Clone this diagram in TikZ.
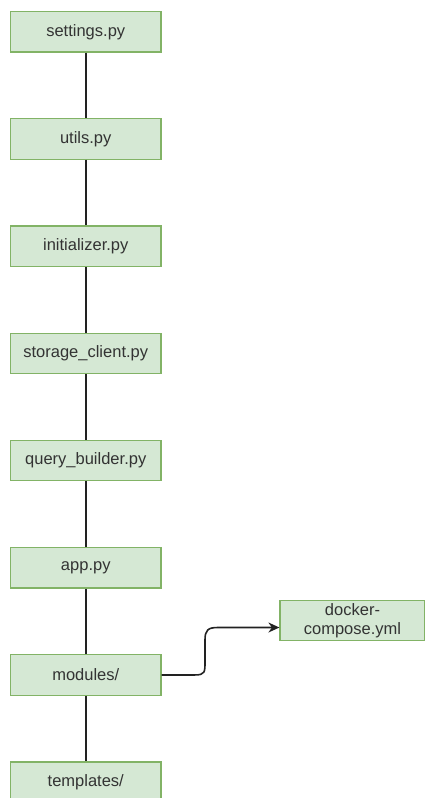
\documentclass[tikz,border=0pt]{standalone}
\usepackage{fontspec}
\setmainfont{Liberation Sans}
\usetikzlibrary{arrows.meta}
\definecolor{boxfill}{HTML}{D5E8D4}
\definecolor{boxline}{HTML}{82B366}
\definecolor{linec}{HTML}{222222}
\begin{document}
\begin{tikzpicture}[x=1pt,y=-1pt,
  filebox/.style={draw=boxline,fill=boxfill,line width=1.2pt,minimum width=150.5pt,minimum height=40.5pt,inner sep=0pt,font=\fontsize{16.5}{19}\selectfont,text=black!80,align=center},
  conn/.style={draw=linec,line width=1.6pt}]
\useasboundingbox (0,0) rectangle (425,798);
\begin{scope}
\clip (0,0) rectangle (425,798);
\node[filebox] (settings) at (85.75,31.75) {settings.py};
\node[filebox] (utils) at (85.75,138.95) {utils.py};
\node[filebox] (init) at (85.75,246.15) {initializer.py};
\node[filebox] (storage) at (85.75,353.35) {storage\_client.py};
\node[filebox] (query) at (85.75,460.55) {query\_builder.py};
\node[filebox] (app) at (85.75,567.75) {app.py};
\node[filebox] (modules) at (85.75,674.95) {modules/};
\node[filebox] (templates) at (85.75,782.15) {templates/};
\node[filebox,minimum width=145pt] (docker) at (352.5,620.5) {docker-\\compose.yml};
\draw[conn] (settings) -- (utils);
\draw[conn] (utils) -- (init);
\draw[conn] (init) -- (storage);
\draw[conn] (storage) -- (query);
\draw[conn] (query) -- (app);
\draw[conn] (app) -- (modules);
\draw[conn] (modules) -- (templates);
\coordinate (dt) at (docker.west |- 0,627.5);
\draw[conn,-{Stealth[length=11pt,width=10pt]}] (modules.east) -- (195,674.95)
  .. controls (205,674.95) and (205,672) .. (205,662)
  -- (205,640)
  .. controls (205,630) and (208,627.5) .. (218,627.5)
  -- (dt);
\end{scope}
\end{tikzpicture}
\end{document}
